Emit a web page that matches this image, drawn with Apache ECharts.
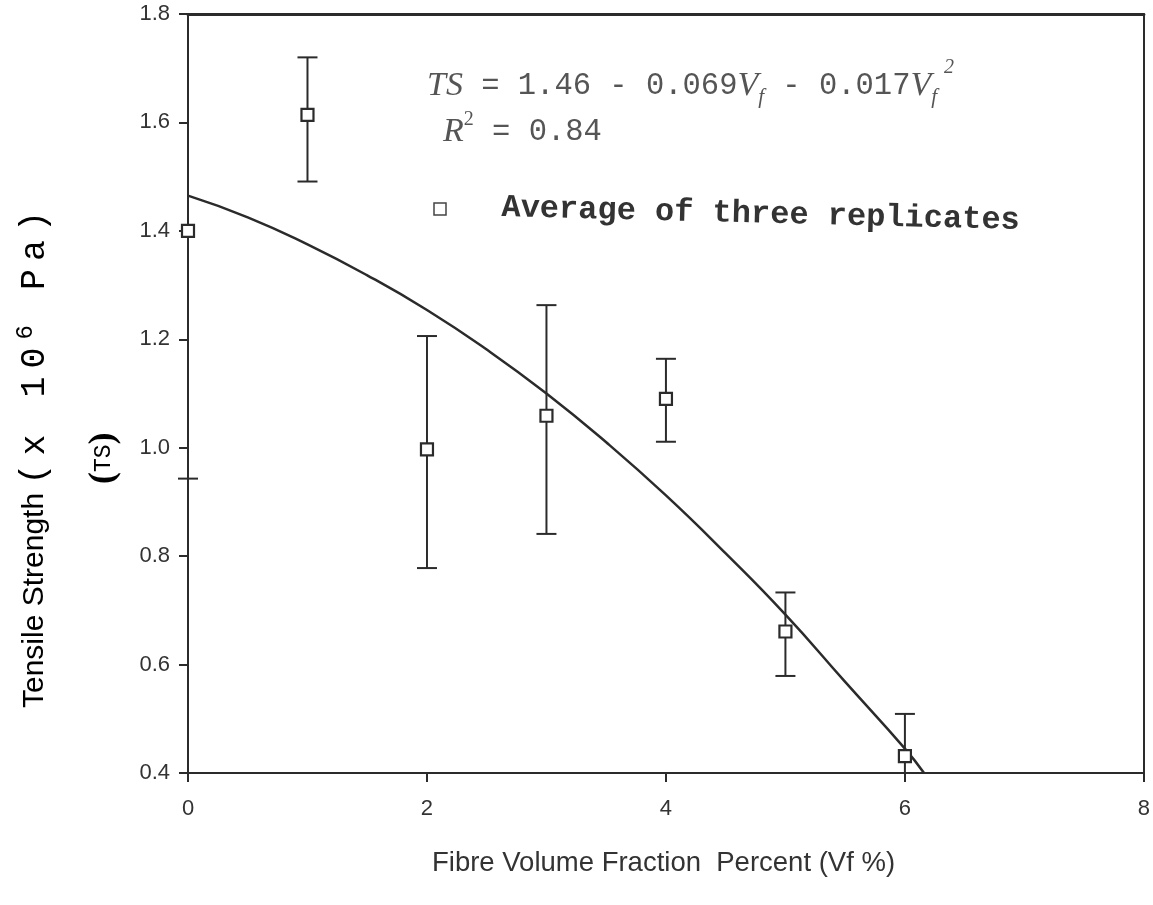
<!DOCTYPE html>
<html>
<head>
<meta charset="utf-8">
<script src="https://cdn.jsdelivr.net/npm/echarts@6/dist/echarts.min.js"></script>
<style>
  html, body { margin: 0; padding: 0; background: #fff; }
  #main { width: 1153px; height: 905px; }
</style>
</head>
<body>
<div id="main"></div>
<script>
// measured points (average of three replicates)
var vf = [0, 1, 2, 3, 4, 5, 6];
var tsMean = [1.40, 1.614, 0.997, 1.059, 1.090, 0.661, 0.431];
var tsLow = [0.943, 1.491, 0.778, 0.841, 1.011, 0.579, 0.353];
var tsHigh = [1.857, 1.720, 1.206, 1.263, 1.164, 0.733, 0.509];

// fitted curve
var fitX = [0, 0.5, 1, 1.5, 2, 2.5, 3, 3.5, 4, 4.5, 5, 5.5, 6, 6.16];
var fitY = [1.465, 1.425, 1.375, 1.318, 1.254, 1.181, 1.100, 1.010, 0.912, 0.805, 0.692, 0.568, 0.445, 0.400];

var xTicks = [0, 2, 4, 6, 8];
var yTicks = [0.4, 0.6, 0.8, 1.0, 1.2, 1.4, 1.6, 1.8];

var ink = '#2b2b2b';
var grey = '#555';
var tickFont = 'Liberation Sans';

// typewriter style unit "(x 10^6 Pa)": one token per glyph so it can be spaced out
function spaced(str) {
    return str.split('').map(function (c) { return '{m|' + c + '}'; }).join('');
}

var chart = echarts.init(document.getElementById('main'));

var option = {
    backgroundColor: '#fff',
    animation: false,
    grid: { left: 188, right: 6, top: 14, bottom: 132 },
    xAxis: [
        {
            type: 'value',
            min: xTicks[0],
            max: xTicks[xTicks.length - 1],
            interval: 2,
            axisLine: { onZero: false, lineStyle: { color: ink, width: 2 } },
            axisTick: { length: 9, lineStyle: { color: ink, width: 2 } },
            axisLabel: { color: '#333', fontSize: 22, fontFamily: tickFont, margin: 25 },
            splitLine: { show: false }
        },
        {
            type: 'value', position: 'top', min: 0, max: 8,
            axisLine: { show: true, onZero: false, lineStyle: { color: ink, width: 3 } },
            axisTick: { show: false }, axisLabel: { show: false }, splitLine: { show: false }
        }
    ],
    yAxis: [
        {
            type: 'value',
            min: yTicks[0],
            max: yTicks[yTicks.length - 1],
            interval: 0.2,
            axisLine: { onZero: false, lineStyle: { color: ink, width: 2 } },
            axisTick: { length: 9, lineStyle: { color: ink, width: 2 } },
            axisLabel: {
                color: '#333', fontSize: 22, fontFamily: tickFont, margin: 18,
                formatter: function (v) { return v.toFixed(1); }
            },
            splitLine: { show: false }
        },
        {
            type: 'value', position: 'right', min: 0.4, max: 1.8,
            axisLine: { show: true, onZero: false, lineStyle: { color: ink, width: 2 } },
            axisTick: { show: false }, axisLabel: { show: false }, splitLine: { show: false }
        }
    ],
    series: [
        {
            type: 'line',
            data: fitX.map(function (x, i) { return [x, fitY[i]]; }),
            smooth: true,
            showSymbol: false,
            lineStyle: { color: ink, width: 2.5 },
            z: 2
        },
        {
            // error bars
            type: 'custom',
            data: vf.map(function (x, i) { return [x, tsLow[i], tsHigh[i]]; }),
            renderItem: function (params, api) {
                var cs = params.coordSys;
                var lo = api.coord([api.value(0), api.value(1)]);
                var hi = api.coord([api.value(0), api.value(2)]);
                var top = cs.y, bot = cs.y + cs.height;
                var yLo = Math.min(lo[1], bot), yHi = Math.max(hi[1], top);
                var half = 10;
                var st = { stroke: ink, lineWidth: 2 };
                var kids = [{ type: 'line', shape: { x1: lo[0], y1: yLo, x2: hi[0], y2: yHi }, style: st }];
                if (lo[1] <= bot) kids.push({ type: 'line', shape: { x1: lo[0] - half, y1: lo[1], x2: lo[0] + half, y2: lo[1] }, style: st });
                if (hi[1] >= top) kids.push({ type: 'line', shape: { x1: hi[0] - half, y1: hi[1], x2: hi[0] + half, y2: hi[1] }, style: st });
                return { type: 'group', children: kids };
            },
            z: 3
        },
        {
            name: 'Average of three replicates',
            type: 'scatter',
            data: vf.map(function (x, i) { return [x, tsMean[i]]; }),
            symbol: 'rect',
            symbolSize: 12,
            itemStyle: { color: '#fff', borderColor: ink, borderWidth: 2.2, opacity: 1 },
            z: 4
        }
    ],
    graphic: [
        {
            type: 'text', left: 427, top: 69,
            style: {
                text: '{it|TS}{m| = 1.46 - 0.069}{it|V}{sub|f}{m| - 0.017}{it|V}{sub|f}',
                fill: grey,
                rich: {
                    it: { fontFamily: 'Liberation Serif', fontStyle: 'italic', fontSize: 34, color: grey, lineHeight: 44, verticalAlign: 'middle' },
                    m: { fontFamily: 'Liberation Mono', fontSize: 30.5, color: grey, lineHeight: 44, verticalAlign: 'middle' },
                    sub: { fontFamily: 'Liberation Serif', fontStyle: 'italic', fontSize: 21, color: grey, lineHeight: 18, verticalAlign: 'bottom' }
                }
            }
        },
        {
            type: 'text', left: 944, top: 58,
            style: { text: '2', fontFamily: 'Liberation Serif', fontStyle: 'italic', fontSize: 20, fill: grey }
        },
        {
            type: 'text', left: 443, top: 110,
            style: {
                text: '{it|R}{sup|2}{m| = 0.84}',
                fill: grey,
                rich: {
                    it: { fontFamily: 'Liberation Serif', fontStyle: 'italic', fontSize: 34, color: grey, lineHeight: 44, verticalAlign: 'middle' },
                    m: { fontFamily: 'Liberation Mono', fontSize: 30.5, color: grey, lineHeight: 44, verticalAlign: 'middle' },
                    sup: { fontFamily: 'Liberation Serif', fontSize: 20, color: grey, lineHeight: 20, verticalAlign: 'top' }
                }
            }
        },
        {
            type: 'rect', shape: { x: 434, y: 203, width: 12, height: 12 },
            style: { fill: '#fff', stroke: '#444', lineWidth: 1.5 }
        },
        {
            type: 'text', left: 501, top: 192, rotation: -0.025,
            style: { text: 'Average of three replicates', fontFamily: 'Liberation Mono', fontWeight: 'bold', fontSize: 32, fill: '#333' }
        },
        {
            type: 'text', left: 432, top: 849,
            style: { text: 'Fibre Volume Fraction  Percent (Vf %)', fontFamily: 'Liberation Sans', fontSize: 27.5, fill: '#333' }
        },
        {
            type: 'text', x: 14, y: 708, rotation: Math.PI / 2,
            style: {
                text: '{s|Tensile Strength }' + spaced('(x 10') + '{sup|6}' + spaced(' Pa)'),
                rich: {
                    s: { fontFamily: 'Liberation Sans', fontSize: 30, color: '#444', lineHeight: 42, verticalAlign: 'middle' },
                    m: { fontFamily: 'Liberation Mono', fontSize: 35, color: '#444', lineHeight: 42, verticalAlign: 'middle', padding: [0, 8, 0, 0] },
                    sup: { fontFamily: 'Liberation Mono', fontSize: 24, color: '#444', lineHeight: 22, verticalAlign: 'top', padding: [0, 6, 0, 0] }
                }
            }
        },
        {
            type: 'text', x: 84, y: 484, rotation: Math.PI / 2,
            style: {
                text: '{p|(}{t|TS}{p|)}',
                rich: {
                    p: { fontFamily: 'Liberation Serif', fontWeight: 'bold', fontSize: 36, color: '#333', lineHeight: 40, verticalAlign: 'middle' },
                    t: { fontFamily: 'Liberation Mono', fontSize: 23, color: '#333', lineHeight: 40, verticalAlign: 'middle' }
                }
            }
        }
    ]
};

chart.setOption(option);
</script>
</body>
</html>
